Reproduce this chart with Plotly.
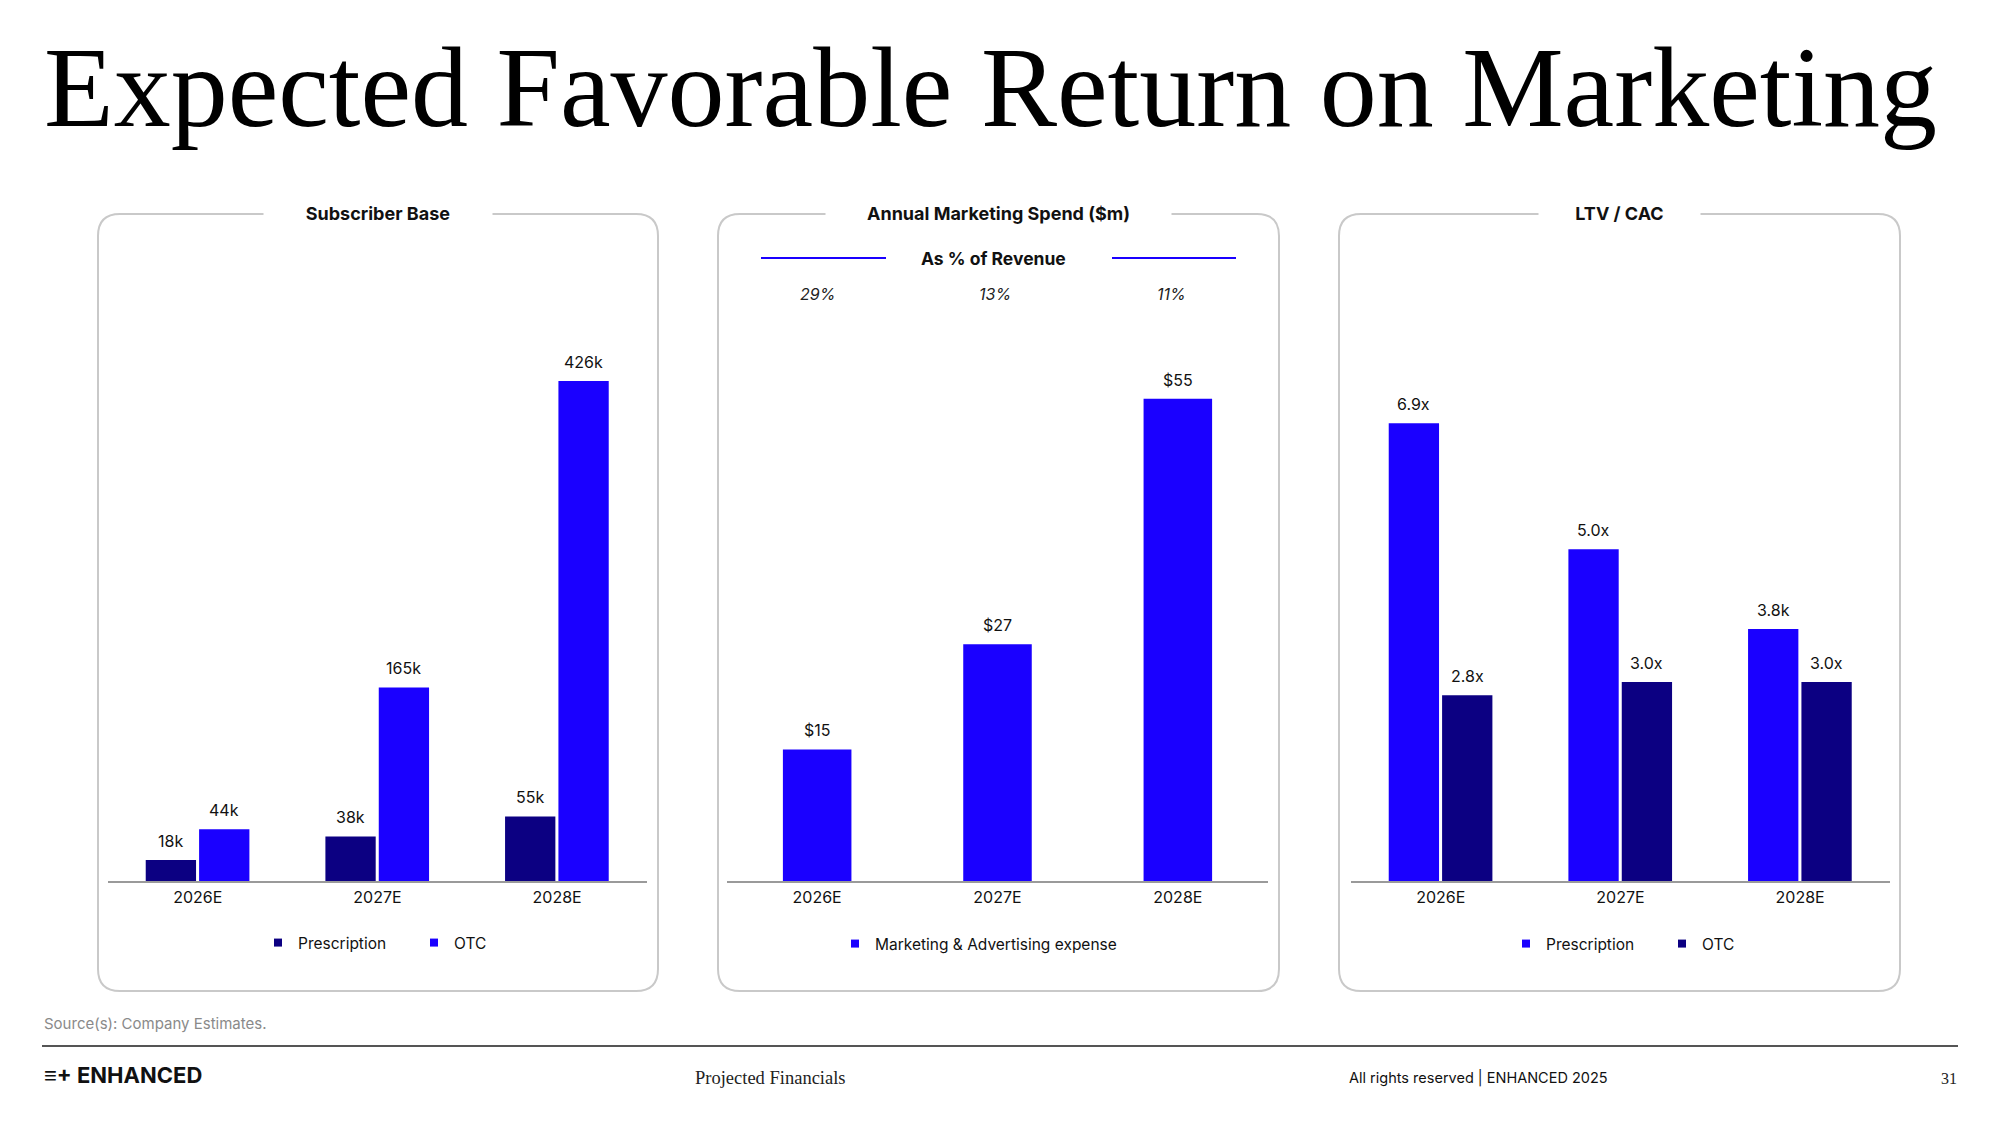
import plotly.graph_objects as go

# ---------------- data ----------------
years = ["2026E", "2027E", "2028E"]

subs_rx = [18, 38, 55]
subs_otc = [44, 165, 426]
subs_rx_labels = ["18k", "38k", "55k"]
subs_otc_labels = ["44k", "165k", "426k"]

mkt_spend = [15, 27, 55]
mkt_labels = ["$15", "$27", "$55"]
pct_of_revenue = ["29%", "13%", "11%"]

ltv_rx = [6.9, 5.0, 3.8]
ltv_otc = [2.8, 3.0, 3.0]
ltv_rx_labels = ["6.9x", "5.0x", "3.8k"]
ltv_otc_labels = ["2.8x", "3.0x", "3.0x"]

panel_titles = ["Subscriber Base", "Annual Marketing Spend ($m)", "LTV / CAC"]

# ---------------- style ----------------
W, H = 2000, 1125
BLUE = "#1A00FF"
NAVY = "#0C0082"
SANS = "Inter, Roboto, Liberation Sans, sans-serif"
SERIF = "Liberation Serif, DejaVu Serif, serif"


def X(px):
    return px / W


def Y(py):
    return 1 - py / H


fig = go.Figure()

# grouped-bar geometry (category units)
OFF_L, OFF_R, BW = -0.29, 0.007, 0.28
SINGLE_W = 0.38


def add_bar(x, y, color, name, ax, legend, offset, width):
    xa = "x" + ("" if ax == 1 else str(ax))
    ya = "y" + ("" if ax == 1 else str(ax))
    fig.add_trace(go.Bar(
        x=x, y=y, name=name, marker=dict(color=color, line=dict(width=0)),
        offset=offset, width=width, xaxis=xa, yaxis=ya,
        showlegend=False, hoverinfo="skip",
    ))
    # small square legend key for the series
    fig.add_trace(go.Scatter(
        x=[None], y=[None], mode="markers", name=name, xaxis=xa, yaxis=ya,
        marker=dict(symbol="square", size=8, color=color),
        legend=legend, hoverinfo="skip",
    ))


add_bar(years, subs_rx, NAVY, "Prescription", 1, "legend", OFF_L, BW)
add_bar(years, subs_otc, BLUE, "OTC", 1, "legend", OFF_R, BW)
add_bar(years, mkt_spend, BLUE, "Marketing & Advertising expense", 2, "legend2", -SINGLE_W / 2, SINGLE_W)
add_bar(years, ltv_rx, BLUE, "Prescription", 3, "legend3", OFF_L, BW)
add_bar(years, ltv_otc, NAVY, "OTC", 3, "legend3", OFF_R, BW)

annotations = []


def value_labels(vals, labels, ax, offset, width):
    xr = "x" + ("" if ax == 1 else str(ax))
    yr = "y" + ("" if ax == 1 else str(ax))
    for i, (v, t) in enumerate(zip(vals, labels)):
        annotations.append(dict(
            x=i + offset + width / 2, y=v, xref=xr, yref=yr, text=t,
            showarrow=False, xanchor="center", yanchor="middle", yshift=19,
            font=dict(family=SANS, size=16, color="#111111"),
        ))


value_labels(subs_rx, subs_rx_labels, 1, OFF_L, BW)
value_labels(subs_otc, subs_otc_labels, 1, OFF_R, BW)
value_labels(mkt_spend, mkt_labels, 2, -SINGLE_W / 2, SINGLE_W)
value_labels(ltv_rx, ltv_rx_labels, 3, OFF_L, BW)
value_labels(ltv_otc, ltv_otc_labels, 3, OFF_R, BW)

# % of revenue row
for i, p in enumerate(pct_of_revenue):
    annotations.append(dict(
        x=years[i], y=Y(294), xref="x2", yref="paper", text="<i>" + p + "</i>",
        showarrow=False, xanchor="center", yanchor="middle", xshift=-3 * i,
        font=dict(family=SANS, size=16, color="#222222"),
    ))

# axes
x_domains = [(108, 647), (727, 1268), (1351, 1890)]
y_ranges = [467, 62.5, 8.26]
for k in range(3):
    sfx = "" if k == 0 else str(k + 1)
    fig.layout["xaxis" + sfx] = dict(
        domain=[X(x_domains[k][0]), X(x_domains[k][1])], anchor="y" + sfx,
        type="category", categoryorder="array", categoryarray=years,
        range=[-0.5, 2.5],
        showgrid=False, zeroline=False, showline=True, linecolor="#9a9a9a",
        linewidth=1.5, ticks="", ticklabelstandoff=1,
        tickfont=dict(family=SANS, size=16, color="#111111"), fixedrange=True,
    )
    fig.layout["yaxis" + sfx] = dict(
        domain=[Y(881), Y(333)], anchor="x" + sfx, range=[0, y_ranges[k]],
        showgrid=False, zeroline=False, showticklabels=False, showline=False,
        fixedrange=True,
    )

# panel boxes (rounded) and titles
shapes = []
boxes = [(98, 214, 658, 991), (718, 214, 1279, 991), (1339, 214, 1900, 991)]
title_gaps = [226, 343, 159]
R = 22


def rounded(x0, y0, x1, y1, r):
    return (f"M {X(x0 + r)},{Y(y0)} L {X(x1 - r)},{Y(y0)} "
            f"Q {X(x1)},{Y(y0)} {X(x1)},{Y(y0 + r)} L {X(x1)},{Y(y1 - r)} "
            f"Q {X(x1)},{Y(y1)} {X(x1 - r)},{Y(y1)} L {X(x0 + r)},{Y(y1)} "
            f"Q {X(x0)},{Y(y1)} {X(x0)},{Y(y1 - r)} L {X(x0)},{Y(y0 + r)} "
            f"Q {X(x0)},{Y(y0)} {X(x0 + r)},{Y(y0)} Z")


for (x0, y0, x1, y1), t, g in zip(boxes, panel_titles, title_gaps):
    shapes.append(dict(type="path", xref="paper", yref="paper",
                       path=rounded(x0, y0, x1, y1, R),
                       line=dict(color="#c9c9c9", width=2), layer="below"))
    annotations.append(dict(
        x=X((x0 + x1) / 2), y=Y(y0), xref="paper", yref="paper",
        text="<b>" + t + "</b>", showarrow=False, xanchor="center", yanchor="middle",
        width=g, bgcolor="white", align="center",
        font=dict(family=SANS, size=18, color="#111111"),
    ))

# "As % of Revenue" subtitle with blue rules
annotations.append(dict(
    x=X(993), y=Y(258), xref="paper", yref="paper", text="<b>As % of Revenue</b>",
    showarrow=False, xanchor="center", yanchor="middle",
    font=dict(family=SANS, size=17.5, color="#111111"),
))
for a, b in [(761, 886), (1112, 1236)]:
    shapes.append(dict(type="line", xref="paper", yref="paper",
                       x0=X(a), x1=X(b), y0=Y(258), y1=Y(258),
                       line=dict(color=BLUE, width=2)))

# main title
annotations.append(dict(
    x=X(42), y=Y(22), xref="paper", yref="paper",
    text="Expected Favorable Return on Marketing", showarrow=False,
    xanchor="left", yanchor="top",
    font=dict(family=SERIF, size=114, color="#000000"),
))

# footer
annotations.append(dict(
    x=X(42), y=Y(1023), xref="paper", yref="paper", text="Source(s): Company Estimates.",
    showarrow=False, xanchor="left", yanchor="middle",
    font=dict(family=SANS, size=15, color="#8a8a8a"),
))
shapes.append(dict(type="line", xref="paper", yref="paper",
                   x0=X(42), x1=X(1958), y0=Y(1046), y1=Y(1046),
                   line=dict(color="#555555", width=2)))
annotations.append(dict(
    x=X(42), y=Y(1075), xref="paper", yref="paper", text="<b>≡+ ENHANCED</b>",
    showarrow=False, xanchor="left", yanchor="middle",
    font=dict(family=SANS, size=22, color="#111111"),
))
annotations.append(dict(
    x=X(770), y=Y(1078), xref="paper", yref="paper", text="Projected Financials",
    showarrow=False, xanchor="center", yanchor="middle",
    font=dict(family=SERIF, size=18.5, color="#222222"),
))
annotations.append(dict(
    x=X(1347), y=Y(1078), xref="paper", yref="paper",
    text="All rights reserved | ENHANCED 2025",
    showarrow=False, xanchor="left", yanchor="middle",
    font=dict(family=SANS, size=14.5, color="#111111"),
))
annotations.append(dict(
    x=X(1959), y=Y(1078), xref="paper", yref="paper", text="31",
    showarrow=False, xanchor="right", yanchor="middle",
    font=dict(family=SERIF, size=16, color="#222222"),
))

legend_common = dict(orientation="h", yanchor="middle", xanchor="left",
                     bgcolor="rgba(0,0,0,0)", itemwidth=30,
                     font=dict(family=SANS, size=15.5, color="#111111"),
                     itemclick=False, itemdoubleclick=False)

fig.update_layout(
    width=W, height=H,
    margin=dict(l=0, r=0, t=0, b=0),
    paper_bgcolor="white", plot_bgcolor="rgba(0,0,0,0)",
    barmode="overlay",
    showlegend=True,
    legend=dict(legend_common, x=X(258), y=Y(943), entrywidth=111),
    legend2=dict(legend_common, x=X(835), y=Y(944)),
    legend3=dict(legend_common, x=X(1506), y=Y(944), entrywidth=111),
    shapes=shapes,
    annotations=annotations,
)

fig.write_html(
    "out.html",
    config={"displayModeBar": False},
    post_script="document.body.style.margin='0';document.body.style.overflow='hidden';",
)
